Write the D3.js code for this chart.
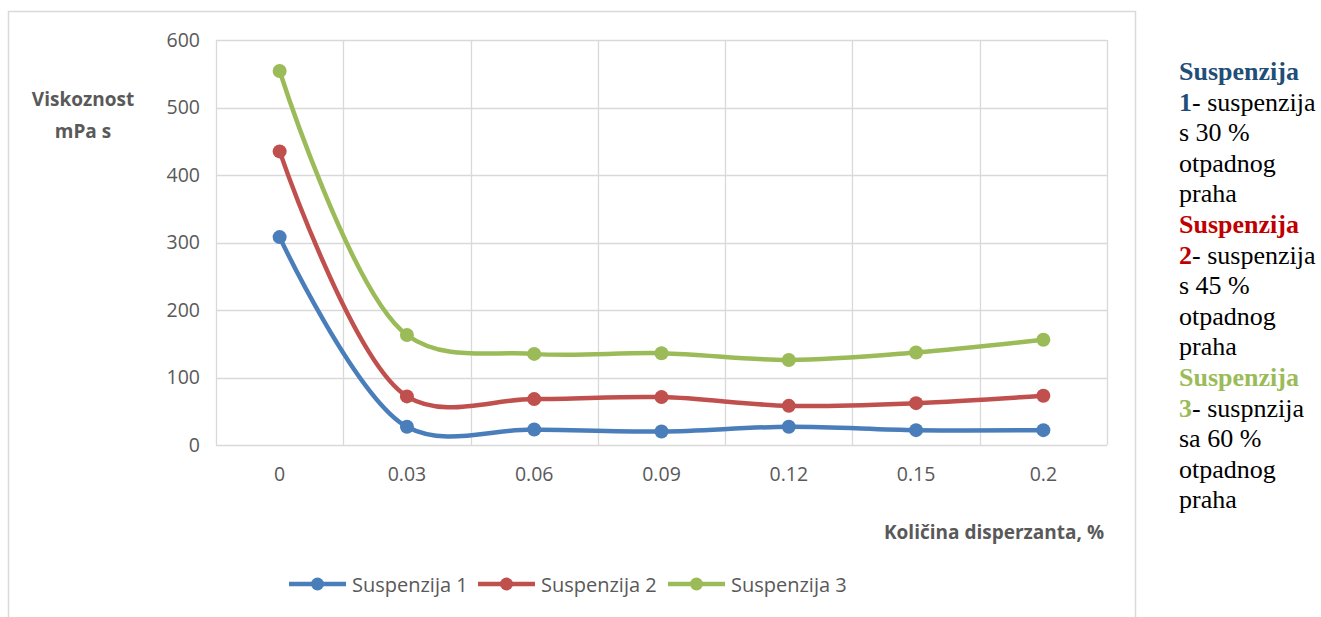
<!DOCTYPE html>
<html>
<head>
<meta charset="utf-8">
<script src="https://cdn.jsdelivr.net/npm/d3@7"></script>
<style>
  body { margin: 0; background: #fff; }
  svg { display: block; }
</style>
</head>
<body>
<script>
// data
const categories = ["0", "0.03", "0.06", "0.09", "0.12", "0.15", "0.2"];
const suspenzija1 = [308, 27, 23, 20, 27, 22, 22];
const suspenzija2 = [435, 72, 68, 71, 58, 62, 73];
const suspenzija3 = [554, 163, 135, 136, 126, 137, 156];
const seriesNames = ["Suspenzija 1", "Suspenzija 2", "Suspenzija 3"];
const yTicks = [0, 100, 200, 300, 400, 500, 600];

const colors = ["#4a7ebb", "#c0504d", "#9bbb59"];
const series = [suspenzija1, suspenzija2, suspenzija3].map((v, i) => ({ name: seriesNames[i], values: v, color: colors[i] }));

const W = 1321, H = 617;
const plot = { left: 216, top: 40, right: 1107, bottom: 445 };

const svg = d3.select("body").append("svg")
  .attr("width", W).attr("height", H);

// outer chart frame
svg.append("rect")
  .attr("x", 8.5).attr("y", 11.5)
  .attr("width", 1127).attr("height", 620)
  .attr("fill", "none").attr("stroke", "#d9d9d9").attr("stroke-width", 1.5);

const x = d3.scaleBand().domain(categories).range([plot.left, plot.right]);
const y = d3.scaleLinear().domain([0, 600]).range([plot.bottom, plot.top]);

const g = svg.append("g");

// gridlines
g.selectAll(".hgrid").data(yTicks).enter().append("line")
  .attr("x1", plot.left).attr("x2", plot.right)
  .attr("y1", d => Math.round(y(d)) + 0.5).attr("y2", d => Math.round(y(d)) + 0.5)
  .attr("stroke", "#d9d9d9").attr("stroke-width", 1.3);

const vLines = categories.map(c => x(c)).concat([plot.right]);
g.selectAll(".vgrid").data(vLines).enter().append("line")
  .attr("x1", d => Math.round(d) + 0.5).attr("x2", d => Math.round(d) + 0.5)
  .attr("y1", plot.top).attr("y2", plot.bottom)
  .attr("stroke", "#d9d9d9").attr("stroke-width", 1.3);

// y axis labels
const yAxis = d3.axisLeft(y).tickValues(yTicks).tickSize(0).tickPadding(16);
svg.append("g")
  .attr("transform", `translate(${plot.left},0)`)
  .call(yAxis)
  .call(s => s.select(".domain").remove())
  .selectAll("text")
  .attr("font-family", "'Open Sans', sans-serif")
  .attr("font-size", 19.5).attr("fill", "#595959");

// x axis labels
const xAxis = d3.axisBottom(x).tickSize(0).tickPadding(22);
svg.append("g")
  .attr("transform", `translate(0,${plot.bottom})`)
  .call(xAxis)
  .call(s => s.select(".domain").remove())
  .selectAll("text")
  .attr("font-family", "'Open Sans', sans-serif")
  .attr("font-size", 19.5).attr("fill", "#595959");

// axis titles
const yTitle = svg.append("text")
  .attr("font-family", "'Open Sans', sans-serif")
  .attr("font-size", 19).attr("font-weight", "bold")
  .attr("fill", "#595959").attr("text-anchor", "middle");
yTitle.append("tspan").attr("x", 83).attr("y", 106).text("Viskoznost");
yTitle.append("tspan").attr("x", 83).attr("y", 138).text("mPa s");

svg.append("text")
  .attr("x", 1104).attr("y", 539)
  .attr("text-anchor", "end")
  .attr("font-family", "'Open Sans', sans-serif")
  .attr("font-size", 19).attr("font-weight", "bold")
  .attr("fill", "#595959")
  .text("Količina disperzanta, %");

// lines
const line = d3.line()
  .x((d, i) => x(categories[i]) + x.bandwidth() / 2)
  .y(d => y(d))
  .curve(d3.curveCatmullRom.alpha(0.5));

const sg = svg.selectAll(".series").data(series).enter().append("g");
sg.append("path")
  .attr("d", d => line(d.values))
  .attr("fill", "none")
  .attr("stroke", d => d.color)
  .attr("stroke-width", 4.5)
  .attr("stroke-linecap", "round");

sg.selectAll("circle")
  .data(d => d.values.map((v, i) => ({ v, i, color: d.color })))
  .enter().append("circle")
  .attr("cx", d => x(categories[d.i]) + x.bandwidth() / 2)
  .attr("cy", d => y(d.v))
  .attr("r", 7)
  .attr("fill", d => d.color);

// legend
const legendX = [289, 478, 668];
const lg = svg.selectAll(".legend").data(series).enter().append("g")
  .attr("transform", (d, i) => `translate(${legendX[i]},584)`);
lg.append("line")
  .attr("x1", 0).attr("x2", 57).attr("y1", 0).attr("y2", 0)
  .attr("stroke", d => d.color).attr("stroke-width", 4.5);
lg.append("circle")
  .attr("cx", 28.5).attr("cy", 0).attr("r", 6.5)
  .attr("fill", d => d.color);
lg.append("text")
  .attr("x", 63).attr("y", 8)
  .attr("font-family", "'Open Sans', sans-serif")
  .attr("font-size", 20).attr("fill", "#595959")
  .text(d => d.name);

// side note
const noteColors = ["#1f4e79", "#c00000", "#9bbb59"];
const notes = [
  ["1", "- suspenzija", "s 30 %", "otpadnog", "praha"],
  ["2", "- suspenzija", "s 45 %", "otpadnog", "praha"],
  ["3", "- suspnzija", "sa 60 %", "otpadnog", "praha"]
];
const note = svg.append("text")
  .attr("font-family", "'Liberation Serif', 'Times New Roman', serif")
  .attr("font-size", 26).attr("fill", "#000");
let row = 0;
const lh = 30.6, noteX = 1179, noteY = 80;
notes.forEach((n, i) => {
  note.append("tspan").attr("x", noteX).attr("y", noteY + lh * row++)
    .attr("font-weight", "bold").attr("fill", noteColors[i]).text("Suspenzija");
  note.append("tspan").attr("x", noteX).attr("y", noteY + lh * row)
    .attr("font-weight", "bold").attr("fill", noteColors[i]).text(n[0]);
  note.append("tspan").text(n[1]);
  row++;
  for (let k = 2; k < n.length; k++) {
    note.append("tspan").attr("x", noteX).attr("y", noteY + lh * row++).text(n[k]);
  }
});
</script>
</body>
</html>
